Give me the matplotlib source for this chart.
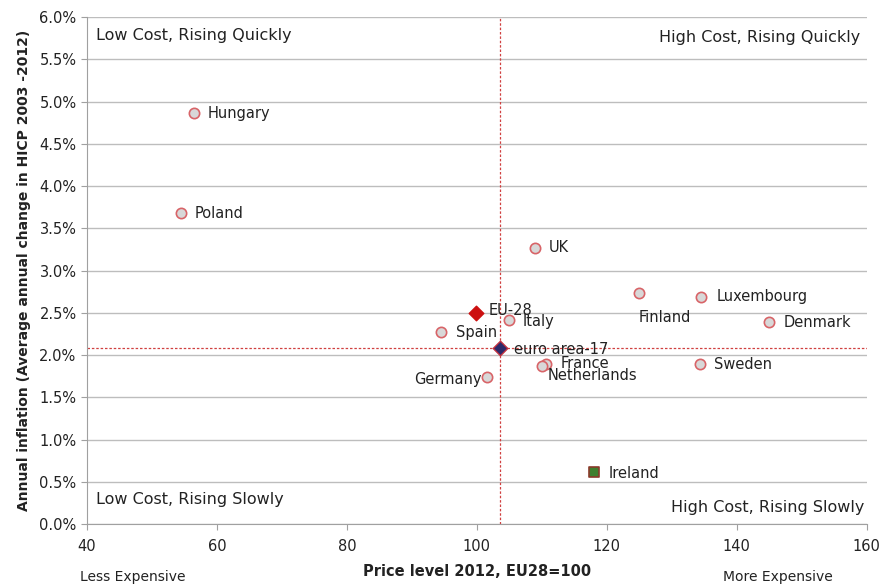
import numpy as np
import matplotlib
matplotlib.use("Agg")
import matplotlib.pyplot as plt
from matplotlib.ticker import FuncFormatter

# price level 2012 (EU28=100) and average annual HICP inflation 2003-2012 (%)
countries = ["Hungary", "Poland", "UK", "Italy", "Spain", "France", "Netherlands",
             "Germany", "Finland", "Luxembourg", "Denmark", "Sweden"]
price = [56.5, 54.5, 108.9, 104.9, 94.5, 110.6, 110.1, 101.5, 124.9, 134.5, 144.9, 134.3]
infl = [4.86, 3.68, 3.27, 2.41, 2.27, 1.90, 1.87, 1.74, 2.73, 2.69, 2.39, 1.89]
# label offsets in points
offs = [(10, 0), (10, 0), (10, 0), (10, -1), (11, 0), (11, 0), (4, -7),
        (-52, -2), (0, -17), (11, 0), (11, 0), (10, 0)]

eu28 = (99.9, 2.50)
ea17 = (103.6, 2.08)
ireland = (118.0, 0.62)

fig = plt.figure(figsize=(8.83, 5.87), dpi=100)
ax = fig.add_axes([0.0985, 0.107, 0.883, 0.864])

ax.set_xlim(40, 160)
ax.set_ylim(0, 6)
ax.set_xticks(np.arange(40, 161, 20))
ax.set_yticks(np.arange(0, 6.01, 0.5))
ax.yaxis.set_major_formatter(FuncFormatter(lambda v, p: f"{v:.1f}%"))
ax.grid(axis="y", color="#bdbdbd", lw=1)
ax.set_axisbelow(True)
for s in ["top", "right"]:
    ax.spines[s].set_visible(False)
for s in ["left", "bottom"]:
    ax.spines[s].set_color("#a0a0a0")
ax.tick_params(colors="#a0a0a0", labelcolor="#222222", labelsize=10.5, length=4)
ax.tick_params(axis="x", pad=7)

# reference lines through euro area-17
ax.axvline(ea17[0], color="#d04040", ls=(0, (2, 1.5)), lw=0.9)
ax.axhline(ea17[1], color="#d04040", ls=(0, (2, 1.5)), lw=0.9)

ax.scatter(price, infl, s=55, facecolor="#d8d8d8", edgecolor="#d86468", lw=1.2, zorder=3)
for c, x, y, o in zip(countries, price, infl, offs):
    ax.annotate(c, (x, y), xytext=o, textcoords="offset points", fontsize=10.5,
                color="#222222", va="center")

ax.scatter(*eu28, marker="D", s=55, color="#cc1010", zorder=4)
ax.annotate("EU-28", eu28, xytext=(9, 2), textcoords="offset points", fontsize=10.5,
            color="#222222", va="center")
ax.scatter(*ea17, marker="D", s=55, facecolor="#2a2a6a", edgecolor="#c03040", zorder=4)
ax.annotate("euro area-17", ea17, xytext=(10, -1), textcoords="offset points",
            fontsize=10.5, color="#222222", va="center")
ax.scatter(*ireland, marker="s", s=60, facecolor="#3f7f2f", edgecolor="#8a3a2a", lw=1.2, zorder=4)
ax.annotate("Ireland", ireland, xytext=(11, -1), textcoords="offset points",
            fontsize=10.5, color="#222222", va="center")

# quadrant captions
ax.text(0.011, 0.955, "Low Cost, Rising Quickly", transform=ax.transAxes, fontsize=11.5, color="#222222")
ax.text(0.992, 0.950, "High Cost, Rising Quickly", transform=ax.transAxes, fontsize=11.5,
        color="#222222", ha="right")
ax.text(0.011, 0.040, "Low Cost, Rising Slowly", transform=ax.transAxes, fontsize=11.5, color="#222222")
ax.text(0.997, 0.025, "High Cost, Rising Slowly", transform=ax.transAxes, fontsize=11.5,
        color="#222222", ha="right")

ax.set_xlabel("Price level 2012, EU28=100", fontsize=10.5, fontweight="bold", color="#222222", labelpad=7)
ax.set_ylabel("Annual inflation (Average annual change in HICP 2003 -2012)", fontsize=10,
              fontweight="bold", color="#222222", labelpad=6)
fig.text(80 / 883, 1 - 577 / 587, "Less Expensive", fontsize=10, color="#222222", va="center")
fig.text(833 / 883, 1 - 577 / 587, "More Expensive", fontsize=10, color="#222222", va="center", ha="right")

fig.savefig("out.png", dpi=100)
